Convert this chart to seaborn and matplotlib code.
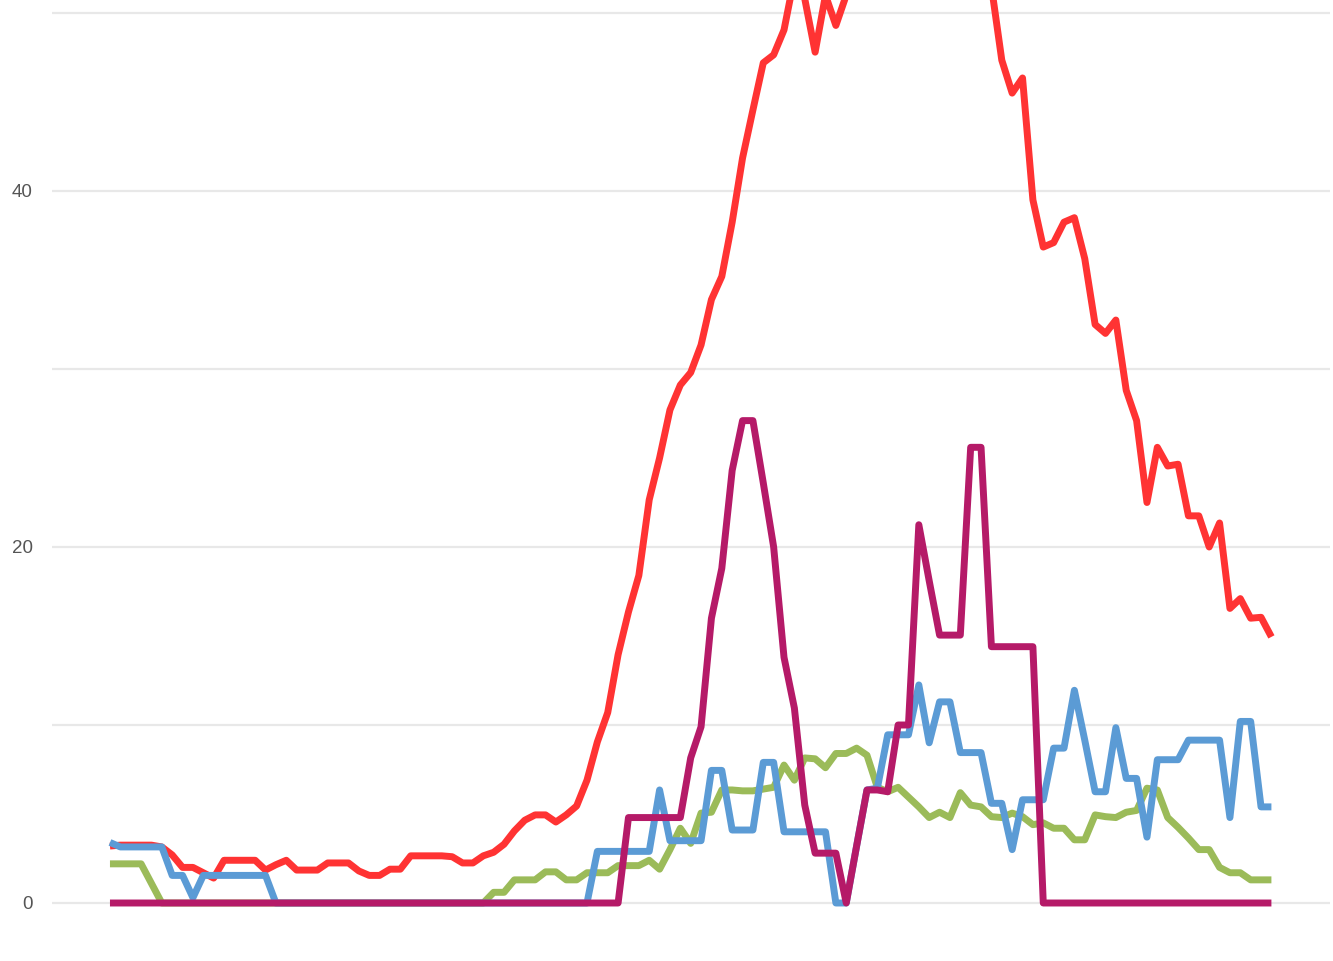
import numpy as np
import pandas as pd
import matplotlib
matplotlib.use('Agg')
import matplotlib.pyplot as plt
import seaborn as sns

# values, one per period (113 periods)
red = [3.2, 3.25, 3.25, 3.25, 3.25, 3.15, 2.7, 2.0, 2.0, 1.7,
       1.4, 2.4, 2.4, 2.4, 2.4, 1.85, 2.15, 2.4, 1.85, 1.85,
       1.85, 2.25, 2.25, 2.25, 1.8, 1.55, 1.55, 1.9, 1.9, 2.65,
       2.65, 2.65, 2.65, 2.6, 2.25, 2.25, 2.65, 2.85, 3.3, 4.05,
       4.65, 4.95, 4.95, 4.55, 4.95, 5.45, 6.9, 9.05, 10.7, 13.95,
       16.35, 18.4, 22.65, 25.0, 27.7, 29.1, 29.8, 31.35, 33.9, 35.2,
       38.25, 41.85, 44.55, 47.2, 47.65, 49.05, 52.0, 50.8, 47.8, 51.0,
       49.3, 51.0, 53.0, 55.0, 57.0, 58.5, 60.0, 61.0, 61.5, 61.0,
       60.0, 59.0, 57.5, 56.0, 54.0, 51.5, 47.35, 45.5, 46.35, 39.5,
       36.85, 37.1, 38.25, 38.5, 36.2, 32.5, 32.0, 32.75, 28.8, 27.1,
       22.5, 25.6, 24.55, 24.65, 21.75, 21.75, 20.0, 21.35, 16.55, 17.1,
       16.0, 16.05, 14.95]

green = [2.2, 2.2, 2.2, 2.2, 1.1, 0, 0, 0, 0, 0,
         0, 0, 0, 0, 0, 0, 0, 0, 0, 0,
         0, 0, 0, 0, 0, 0, 0, 0, 0, 0,
         0, 0, 0, 0, 0, 0, 0, 0.6, 0.6, 1.3,
         1.3, 1.3, 1.75, 1.75, 1.3, 1.3, 1.7, 1.7, 1.7, 2.1,
         2.1, 2.1, 2.4, 1.9, 3.0, 4.2, 3.35, 5.05, 5.1, 6.35,
         6.35, 6.3, 6.3, 6.4, 6.5, 7.75, 6.9, 8.15, 8.1, 7.6,
         8.4, 8.4, 8.7, 8.3, 6.5, 6.25, 6.5, 5.95, 5.4, 4.8,
         5.1, 4.8, 6.2, 5.5, 5.4, 4.85, 4.8, 5.05, 4.85, 4.4,
         4.5, 4.2, 4.2, 3.55, 3.55, 4.95, 4.85, 4.8, 5.1, 5.2,
         6.45, 6.35, 4.8, 4.25, 3.65, 3.0, 3.0, 2.0, 1.7, 1.7,
         1.3, 1.3, 1.3]

blue = [3.4, 3.15, 3.15, 3.15, 3.15, 3.15, 1.55, 1.55, 0.3, 1.55,
        1.55, 1.55, 1.55, 1.55, 1.55, 1.55, 0, 0, 0, 0,
        0, 0, 0, 0, 0, 0, 0, 0, 0, 0,
        0, 0, 0, 0, 0, 0, 0, 0, 0, 0,
        0, 0, 0, 0, 0, 0, 0, 2.9, 2.9, 2.9,
        2.9, 2.9, 2.9, 6.35, 3.5, 3.5, 3.5, 3.5, 7.45, 7.45,
        4.1, 4.1, 4.1, 7.9, 7.9, 4.0, 4.0, 4.0, 4.0, 4.0,
        0, 0, 3.2, 6.35, 6.45, 9.45, 9.45, 9.45, 12.25, 9.0,
        11.3, 11.3, 8.45, 8.45, 8.45, 5.6, 5.6, 3.0, 5.8, 5.8,
        5.8, 8.7, 8.7, 11.95, 9.15, 6.25, 6.25, 9.85, 7.0, 7.0,
        3.7, 8.05, 8.05, 8.05, 9.15, 9.15, 9.15, 9.15, 4.8, 10.2,
        10.2, 5.4, 5.4]

magenta = [0, 0, 0, 0, 0, 0, 0, 0, 0, 0,
           0, 0, 0, 0, 0, 0, 0, 0, 0, 0,
           0, 0, 0, 0, 0, 0, 0, 0, 0, 0,
           0, 0, 0, 0, 0, 0, 0, 0, 0, 0,
           0, 0, 0, 0, 0, 0, 0, 0, 0, 0,
           4.8, 4.8, 4.8, 4.8, 4.8, 4.8, 8.15, 9.9, 16.0, 18.8,
           24.3, 27.1, 27.1, 23.6, 20.0, 13.8, 10.95, 5.5, 2.8, 2.8,
           2.8, 0, 3.2, 6.35, 6.35, 6.25, 10.0, 10.0, 21.25, 18.1,
           15.05, 15.05, 15.05, 25.6, 25.6, 14.4, 14.4, 14.4, 14.4, 14.4,
           0, 0, 0, 0, 0, 0, 0, 0, 0, 0,
           0, 0, 0, 0, 0, 0, 0, 0, 0, 0,
           0, 0, 0]

period = np.arange(len(red))

y_ticks = [0, 20, 40]
y_minor = [10, 30, 50]

sns.set_style('white')
plt.rcParams['font.family'] = ['Liberation Sans', 'DejaVu Sans']

fig = plt.figure(figsize=(13.33, 9.61), dpi=100)
ax = fig.add_axes([52 / 1333, 22.4 / 961, (1330 - 52) / 1333, (961 - 22.4) / 961])

# draw order: red first, magenta on top
lines = [(red, '#FF3333'), (green, '#9BBB59'), (blue, '#5B9BD5'), (magenta, '#B51A68')]
for vals, col in lines:
    df = pd.DataFrame({'period': period, 'value': vals})
    sns.lineplot(data=df, x='period', y='value', color=col, linewidth=5,
                 solid_capstyle='butt', ax=ax)

ax.set_xlim(-5.59, 117.65)
ax.set_ylim(-2, 50.73)
ax.set_xticks([])
ax.set_yticks(y_ticks)
ax.set_yticklabels([str(t) for t in y_ticks])
ax.set_yticks(y_minor, minor=True)
ax.yaxis.grid(True, which='both', color='#E8E8E8', linewidth=1.6)
ax.set_axisbelow(True)
ax.tick_params(axis='y', which='both', length=0, pad=14, labelsize=13.5, labelcolor='#555555')
ax.set_xlabel('')
ax.set_ylabel('')
for s in ax.spines.values():
    s.set_visible(False)

fig.savefig('out.png', dpi=100)
